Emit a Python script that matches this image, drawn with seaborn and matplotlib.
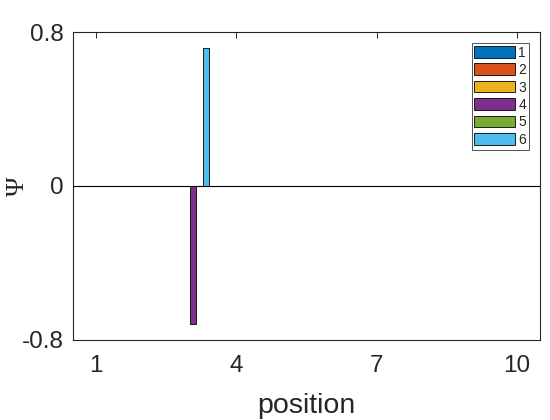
import pandas as pd
import seaborn as sns
import matplotlib
matplotlib.use("Agg")
import matplotlib.pyplot as plt

# values
positions = [1, 2, 3, 4, 5, 6, 7, 8, 9, 10]
series_names = ["1", "2", "3", "4", "5", "6"]
psi_1 = [0, 0, 0, 0, 0, 0, 0, 0, 0, 0]
psi_2 = [0, 0, 0, 0, 0, 0, 0, 0, 0, 0]
psi_3 = [0, 0, 0, 0, 0, 0, 0, 0, 0, 0]
psi_4 = [0, 0, -0.715, 0, 0, 0, 0, 0, 0, 0]
psi_5 = [0, 0, 0, 0, 0, 0, 0, 0, 0, 0]
psi_6 = [0, 0, 0.715, 0, 0, 0, 0, 0, 0, 0]
x_ticks = [1, 4, 7, 10]
y_ticks = [-0.8, 0, 0.8]

colors = ["#0072BD", "#D95319", "#EDB120", "#7E2F8E", "#77AC30", "#4DBEEE"]
dark = "#262626"

rows = []
for name, vals in zip(series_names, [psi_1, psi_2, psi_3, psi_4, psi_5, psi_6]):
    for p, v in zip(positions, vals):
        rows.append({"position": p, "psi": v, "series": name})
df = pd.DataFrame(rows)

sns.set_style("white")
plt.rcParams["font.family"] = ["Liberation Sans", "DejaVu Sans"]

fig = plt.figure(figsize=(5.5, 4.2), dpi=100)
ax = fig.add_axes([0.1327, 0.1905, 0.8491, 0.7333])

sns.barplot(data=df, x="position", y="psi", hue="series", hue_order=series_names,
            palette=colors, saturation=1, native_scale=True, width=0.84, gap=0.2,
            edgecolor="black", linewidth=0.6, errorbar=None, ax=ax)

ax.axhline(0, color="black", lw=0.8, zorder=5)

ax.set_xlim(0.5, 10.5)
ax.set_ylim(-0.8, 0.8)
ax.set_xticks(x_ticks)
ax.set_xticklabels([str(t) for t in x_ticks])
ax.set_yticks(y_ticks)
ax.set_yticklabels(["-0.8", "0", "0.8"])
ax.tick_params(direction="in", length=4, width=0.7, colors=dark,
               labelsize=17.5, top=True, right=True)
ax.tick_params(axis="x", pad=11)
ax.tick_params(axis="y", pad=7)
for sp in ax.spines.values():
    sp.set_color(dark)
    sp.set_linewidth(0.8)
    sp.set_visible(True)

ax.set_xlabel("position", fontsize=20.5, color=dark, labelpad=11)
ax.set_ylabel("Ψ", fontsize=19, color=dark, va="center",
              family=["Liberation Serif", "DejaVu Serif"])
ax.yaxis.set_label_coords(-0.118, 0.5)

handles, labels = ax.get_legend_handles_labels()
leg = ax.legend(handles, labels, loc="upper right", bbox_to_anchor=(0.976, 0.965),
                fontsize=10, frameon=True, fancybox=False, handlelength=2.9,
                handleheight=0.9, handletextpad=0.25, labelspacing=0.25,
                borderpad=0.2, borderaxespad=0)
leg.get_frame().set_edgecolor(dark)
leg.get_frame().set_linewidth(0.7)

fig.savefig("out.png", dpi=100)
